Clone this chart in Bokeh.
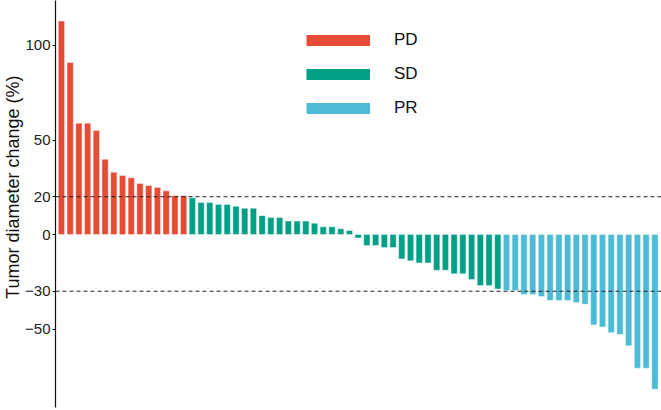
from bokeh.plotting import figure
from bokeh.models import Range1d, FixedTicker, Span, Legend, LegendItem, ColumnDataSource, Title
from bokeh.embed import file_html
from bokeh.resources import INLINE

# ---- data ----
groups = ["PD", "SD", "PR"]
pd_vals = [112.9, 91.0, 58.9, 58.9, 55.0, 39.8, 33.0, 31.2, 30.0, 27.0, 25.9, 24.9, 23.1, 20.5, 20.5]
sd_vals = [19.4, 16.9, 16.9, 15.9, 15.9, 15.0, 13.9, 13.9, 10.0, 9.0, 9.0, 7.1, 7.1, 7.1, 6.0,
           4.1, 4.1, 3.0, 2.1, -1.8, -5.8, -5.8, -6.9, -6.9, -12.9, -13.9, -15.0, -15.0,
           -18.9, -18.9, -20.8, -20.8, -23.8, -27.0, -27.0, -28.8]
pr_vals = [-29.6, -29.6, -31.7, -31.7, -32.8, -34.9, -34.9, -34.9, -36.0, -36.9, -47.8, -48.9,
           -51.9, -52.9, -58.9, -70.7, -70.7, -81.8]
thresholds = [20, -30]
y_ticks = [-50, -30, 0, 20, 50, 100]
y_label = "Tumor diameter change (%)"
colors = {"PD": "#E64B35", "SD": "#00A087", "PR": "#4DBBD5"}

series = {"PD": pd_vals, "SD": sd_vals, "PR": pr_vals}
n_total = len(pd_vals) + len(sd_vals) + len(pr_vals)
NAN = float("nan")

p = figure(width=661, height=410, output_backend="svg", toolbar_location=None,
           x_range=Range1d(0.32, n_total + 0.76), y_range=Range1d(-91.5, 123.8),
           x_axis_location=None, min_border_left=52, min_border_right=0,
           min_border_top=0, min_border_bottom=3)
p.outline_line_color = None
p.grid.visible = False
p.background_fill_color = "white"
p.border_fill_color = "white"

start = 1
legend_items = []
for g in groups:
    vals = series[g]
    xs = list(range(start, start + len(vals)))
    start += len(vals)
    src = ColumnDataSource(dict(x=xs, top=vals))
    p.vbar(x="x", top="top", bottom=0, width=0.72, source=src,
           fill_color=colors[g], line_color="white", line_width=0.6, line_alpha=0.7)
    key = p.line(x=[NAN], y=[NAN], line_color=colors[g], line_width=11)
    legend_items.append(LegendItem(label=g, renderers=[key]))

for t in thresholds:
    p.add_layout(Span(location=t, dimension="width", line_color="#222222",
                      line_width=1, line_dash="4 3"))

ax = p.yaxis[0]
ax.ticker = FixedTicker(ticks=y_ticks)
ax.minor_tick_line_color = None
ax.major_tick_out = 3
ax.major_tick_in = 0
ax.major_tick_line_color = "#111111"
ax.axis_line_color = "#111111"
ax.axis_line_width = 1.2
ax.major_label_text_font = "Liberation Sans"
ax.major_label_text_font_size = "15px"
ax.major_label_text_color = "#222222"
ax.major_label_standoff = 2

ylab = Title(text=y_label, align="right", offset=75, standoff=0,
             text_font="Liberation Sans", text_font_size="18px",
             text_font_style="normal", text_color="#111111")
p.add_layout(ylab, "left")

legend = Legend(items=legend_items, location=(251, 289.5),
                glyph_width=64, glyph_height=20, label_height=20, spacing=14,
                label_standoff=24, padding=0, margin=0,
                border_line_color=None, background_fill_alpha=0,
                label_text_font="Liberation Sans", label_text_font_size="17px",
                label_text_color="#111111")
p.add_layout(legend)

open("out.html", "w").write(file_html(p, INLINE))
